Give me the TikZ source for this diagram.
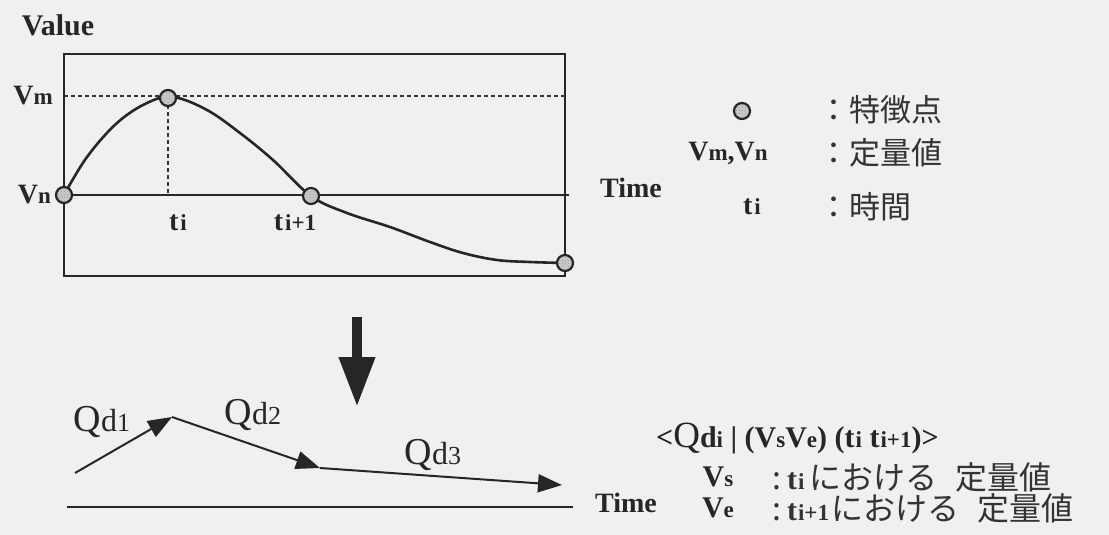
\documentclass[tikz,border=0pt]{standalone}
\usepackage{fontspec}
\setmainfont{Liberation Serif}
\newfontfamily\jp{Noto Sans CJK JP}
\usetikzlibrary{arrows.meta,patterns}
\newcommand{\sm}[1]{{\fontsize{23}{24}\selectfont #1}}
\newcommand{\smb}[1]{{\fontsize{23}{24}\selectfont #1}}
\tikzset{
  feat/.style={circle, draw=black!85, line width=2.2pt, minimum size=16pt, inner sep=0pt,
    preaction={fill=gray!40}, pattern=crosshatch dots, pattern color=gray!85},
  lab/.style={font=\fontsize{28}{30}\selectfont\bfseries, text=black!85, inner sep=1pt},
  lbl/.style={font=\fontsize{30}{32}\selectfont\bfseries, text=black!85, inner sep=1pt},
  jplab/.style={font=\fontsize{31}{33}\selectfont\jp, text=black!80, inner sep=0pt, anchor=west},
  qlab/.style={font=\fontsize{38}{40}\selectfont, text=black!85, inner sep=1pt},
  seg/.style={line width=2pt, black!85, -{Triangle[length=24pt,width=18pt]}},
}
\begin{document}
\begin{tikzpicture}[x=1pt,y=-1pt]
\fill[white!94!black] (0,0) rectangle (1109,535);
\useasboundingbox (0,0) rectangle (1109,535);

% upper graph
\node[lab, font=\fontsize{30}{32}\selectfont\bfseries] (value) at (58,25) {Value};
\draw[line width=2.4pt, black!85] (64,54) rectangle (565,276);
\coordinate (vmL) at (64,96);
\coordinate (vmR) at (565,96);
\coordinate (vnL) at (64,195);
\coordinate (vnR) at (569,195);
\coordinate (c1) at (64,195);
\coordinate (c2) at (168,98);
\coordinate (c3) at (311,196);
\coordinate (c4) at (565,263);
\draw[line width=1.5pt, black!80, dash pattern=on 4pt off 3pt] (vmL) -- (vmR);
\draw[line width=1.5pt, black!80, dash pattern=on 4pt off 3pt] (c2) -- (c2 |- vnL);
\draw[line width=2.2pt, black!85] (vnL) -- (vnR);
\draw[line width=2.6pt, black!85] plot[smooth, tension=0.6] coordinates {(c1) (87,157) (117,123) (147,103) (173,97)
  (207,110) (240,133) (273,160) (c3) (347,213) (390,227) (430,242) (463,253) (497,260) (530,262) (c4)};
\node[feat] (p1) at (c1) {};
\node[feat] (p2) at (c2) {};
\node[feat] (p3) at (c3) {};
\node[feat] (p4) at (c4) {};
\node[lab, anchor=east] (vm) at (54,96) {V\sm{m}};
\node[lab, anchor=east] (vn) at (52,195) {V\sm{n}};
\node[lab] (ti) at (178,223) {t\kern2pt\sm{i}};
\node[lab] (tj) at (295,223) {t\kern2pt\sm{i+1}};
\node[lab] (time1) at (631,188) {Time};

% legend
\node[feat] (lg) at (742,111) {};
\node[jplab] (lg1) at (818,110) {：特徴点};
\node[lab] (lgv) at (728,153) {V\sm{m},V\sm{n}};
\node[jplab] (lg2) at (818,153) {：定量値};
\node[lab] (lgt) at (752,207) {t\kern2pt\sm{i}};
\node[jplab] (lg3) at (818,207) {：時間};

% transformation arrow
\coordinate (a1) at (357,317);
\coordinate (a2) at (357,407);
\draw[line width=10pt, black!85, -{Triangle[length=50pt,width=34pt]}] (a1) -- (a2);

% lower graph
\coordinate (q0) at (75,473);
\coordinate (q1) at (172,417);
\coordinate (q2) at (320,468);
\coordinate (q3) at (562,485);
\draw[seg] (q0) -- (q1);
\draw[seg] (q1) -- (q2);
\draw[seg] (q2) -- (q3);
\coordinate (axL) at (67,507);
\coordinate (axR) at (573,507);
\draw[line width=2.2pt, black!85] (axL) -- (axR);
\node[lab] (time2) at (626,503) {Time};
\node[qlab] (qd1) at (102,422) {Q{\fontsize{32}{33}\selectfont d}{\fontsize{26}{27}\selectfont 1}};
\node[qlab] (qd2) at (253,415) {Q{\fontsize{32}{33}\selectfont d}{\fontsize{26}{27}\selectfont 2}};
\node[qlab] (qd3) at (433,455) {Q{\fontsize{32}{33}\selectfont d}{\fontsize{26}{27}\selectfont 3}};

% tuple
\node[lbl, anchor=west] (tuple) at (655,438)
  {<{\mdseries\fontsize{37}{38}\selectfont Q}d\smb{i} | (V\smb{s}V\smb{e}) (t\kern1pt\smb{i} t\kern1pt\smb{i+1})>};
\node[lbl] (vs) at (718,477) {V\smb{s}};
\node[jplab, font=\fontsize{32}{34}\selectfont\jp] (vst) at (772,477)
  {:\kern6pt{\rmfamily\bfseries\fontsize{30}{32}\selectfont t\kern1pt\smb{i}}\kern5pt における\hspace{18pt}定量値};
\node[lbl] (ve) at (718,508) {V\smb{e}};
\node[jplab, font=\fontsize{32}{34}\selectfont\jp] (vet) at (772,508)
  {:\kern6pt{\rmfamily\bfseries\fontsize{30}{32}\selectfont t\kern1pt\smb{i+1}}\kern2pt における\hspace{18pt}定量値};
\end{tikzpicture}
\end{document}
